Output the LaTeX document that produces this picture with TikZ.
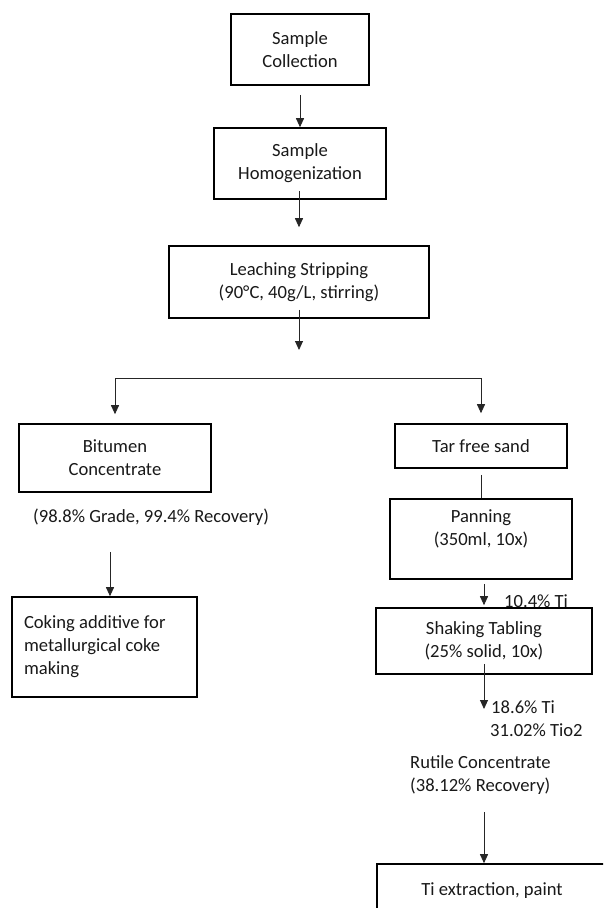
\documentclass[tikz,border=0pt]{standalone}
\usepackage{fontspec}
\setmainfont{Carlito}
\usetikzlibrary{arrows.meta}
\begin{document}
\begin{tikzpicture}[x=1pt,y=-1pt,
  every node/.style={font=\fontsize{18.6}{23}\selectfont, inner sep=0pt, text=black!90},
  box/.style={draw=black, line width=1.6pt, align=center},
  conn/.style={draw=black!85, line width=0.9pt},
  arr/.style={conn, -{Triangle[length=9pt,width=8pt]}}]
\useasboundingbox (0,0) rectangle (603,908);
\clip (0,0) rectangle (603,908);

% process boxes
\node[box, minimum width=138, minimum height=71] (sc) at (300,49.5) {Sample\\Collection};
\node[box, minimum width=172, minimum height=71] (sh) at (300,163.5) {Sample\\Homogenization};
\node[box, minimum width=260, minimum height=72] (ls) at (299,282) {Leaching Stripping\\(90°C, 40g/L, stirring)};
\node[box, minimum width=192, minimum height=68] (bit) at (115,458) {Bitumen\\Concentrate};
\node[box, minimum width=172, minimum height=44] (tar) at (481,446) {Tar free sand};
\node[box, minimum width=182, minimum height=80] (pan) at (481,539) {Panning\\(350ml, 10x)\\[-8pt]\strut};
\node[box, minimum width=216, minimum height=66] (st) at (484,641) {Shaking Tabling\\(25\% solid, 10x)};
\node[box, minimum width=185, minimum height=100, text width=161, align=flush left, inner xsep=12]
  (cok) at (104.5,647) {Coking additive for\\metallurgical coke\\making};
\node[box, minimum width=230, minimum height=54] (ti) at (492,891) {Ti extraction, paint};

% free labels
\node[anchor=west] (grade) at (33,517) {(98.8\% Grade, 99.4\% Recovery)};
\node[anchor=west] (ti1) at (504,601) {10.4\% Ti};
\node[anchor=west] (ti2) at (491,707) {18.6\% Ti};
\node[anchor=west] (tio2) at (490,730) {31.02\% Tio2};
\node[anchor=west, align=flush left] (rut) at (410,775.5) {Rutile Concentrate\\(38.12\% Recovery)};

% junction points
\coordinate (split) at (299,378);
\coordinate (jl) at (115,378);
\coordinate (jr) at (481,378);
\coordinate (t18) at (484,709);
\coordinate (rs) at (484,812);

% connectors
\draw[arr] ([yshift=-9pt]sc.south) -- (sh.north);
\draw[arr] ([xshift=-1pt,yshift=9pt]sh.south) -- ([yshift=18pt]ls.north);
\draw[arr] ([yshift=9pt]ls.south) -- ([yshift=28pt]split);
\draw[conn] (jl) -- (jr);
\draw[arr] (jl) -- ([yshift=9pt]bit.north);
\draw[arr] (jr) -- ([yshift=10pt]tar.north);
\draw[arr] ([xshift=-5pt,yshift=-59pt]bit.south) -- ([xshift=5.5pt]cok.north);
\draw[conn] ([yshift=-6pt]tar.south) -- (pan.north);
\draw[arr] ([xshift=3pt,yshift=-4pt]pan.south) -- ([yshift=2pt]st.north);
\draw[arr] ([yshift=11pt]st.south) -- (t18);
\draw[arr] (rs) -- ([xshift=-8pt]ti.north);
\end{tikzpicture}
\end{document}
